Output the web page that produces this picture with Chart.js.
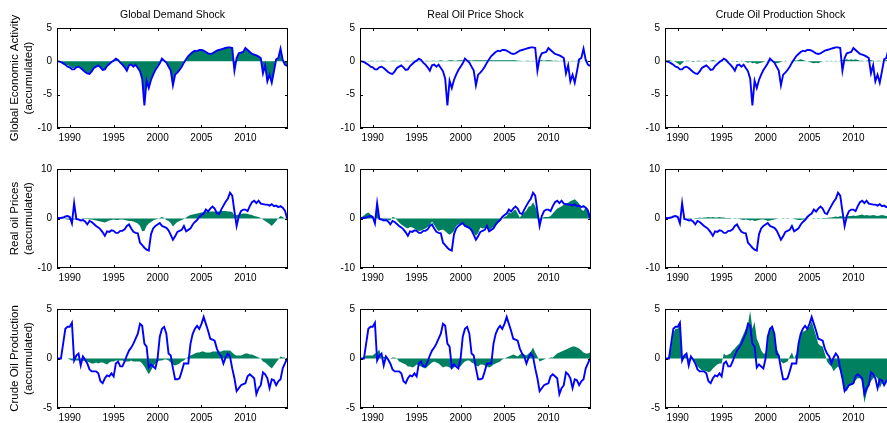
<!DOCTYPE html>
<html>
<head>
<meta charset="utf-8">
<script src="https://cdn.jsdelivr.net/npm/chart.js@4.4.0/dist/chart.umd.min.js"></script>
<style>
  body { margin: 0; background: #fff; width: 887px; height: 423px; overflow: hidden; position: relative; }
  canvas { position: absolute; }
</style>
</head>
<body>
<script>
// quarterly dates, 1988Q3 .. 2014Q4
const quarters = [];
for (let q = 0; q < 106; q++) quarters.push(1988.5 + q * 0.25);

const yearTicks = [1990, 1995, 2000, 2005, 2010];
const shockTitles = ['Global Demand Shock', 'Real Oil Price Shock', 'Crude Oil Production Shock'];
const rowTitles = [
  ['Global Economic Activity', '(accumulated)'],
  ['Real oil Prices', '(accumulated)'],
  ['Crude Oil Production', '(accumulated)']
];
const rowTicks = [[-10, -5, 0, 5], [-10, 0, 10], [-5, 0, 5]];

// ---- global economic activity (row 1) ----
const activityTotal = [
  0.0, 0.0,
  -0.1, -0.3, -0.5, -0.8,   -0.9, -1.2, -1.2, -0.9,   -0.8, -1.0, -1.3, -1.6,   -1.8, -1.9, -1.5, -1.0,
  -0.8, -0.6, -0.9, -1.3,   -1.2, -0.7, -0.4, -0.1,   0.1, 0.4, 0.2, -0.2,      -0.5, -0.9, -1.4, -0.6,
  -0.5, -0.8, -0.5, -1.0,   -1.5, -2.6, -6.6, -2.9,   -4.0, -2.8, -2.0, -1.3,   -0.8, -0.3, 0.4, 0.1,
  -0.2, -0.8, -1.4, -3.6,   -2.0, -1.7, -1.3, -0.8,   -0.2, 0.3, 0.8, 1.1,      1.4, 1.6, 1.5, 1.7,
  1.7, 1.6, 1.4, 1.2,       1.1, 1.2, 1.4, 1.6,       1.7, 1.8, 1.9, 2.0,       2.1, 2.1, 2.0, -1.4,
  0.5, 1.2, 1.3, 1.4,       2.0, 1.7, 1.4, 1.1,       1.0, 0.9, 0.7, 0.5,       -1.8, -0.6, -3.0, -2.0,
  -3.2, -1.5, 0.3, 0.5,     1.9, 0.2, -0.5, -0.7
];
const activityDemand = [
  0.0, 0.0,
  0.0, -0.2, -0.4, -0.6,    -0.7, -1.0, -1.0, -0.8,   -0.7, -0.9, -1.2, -1.5,   -1.7, -1.8, -1.4, -0.9,
  -0.7, -0.5, -0.8, -1.2,   -1.1, -0.6, -0.3, 0.0,    0.1, 0.3, 0.2, -0.2,      -0.4, -0.8, -1.3, -0.6,
  -0.5, -0.7, -0.5, -0.9,   -1.4, -2.4, -6.2, -2.8,   -3.8, -2.6, -1.8, -1.1,   -0.6, -0.2, 0.3, 0.1,
  -0.1, -0.7, -1.3, -3.4,   -1.9, -1.6, -1.2, -0.6,   -0.1, 0.3, 0.8, 1.2,      1.5, 1.7, 1.6, 1.8,
  1.8, 1.6, 1.4, 1.2,       1.2, 1.3, 1.5, 1.7,       1.8, 1.9, 2.0, 2.1,       2.1, 2.1, 2.0, -1.2,
  0.5, 1.3, 1.4, 1.5,       2.0, 1.8, 1.5, 1.2,       1.1, 1.0, 0.8, 0.5,       -1.6, -0.6, -2.8, -1.9,
  -3.0, -1.4, 0.2, 0.4,     1.6, 0.1, -0.5, -0.8
];
const activityOilPrice = [
  0.0, 0.05,
  0.1, 0.05, -0.05, 0.1,    0.1, 0.0, 0.1, 0.05,      0.1, 0.1, 0.05, 0.0,      0.05, 0.1, 0.1, 0.05,
  0.1, 0.05, 0.0, 0.1,      0.1, 0.05, 0.1, 0.1,      0.05, 0.1, 0.05, 0.0,     0.1, 0.1, 0.05, 0.1,
  0.1, 0.05, 0.1, 0.15,     0.1, 0.05, 0.1, 0.15,     0.15, 0.1, 0.1, 0.15,     0.15, 0.15, 0.1, 0.15,
  0.15, 0.1, 0.15, 0.15,    0.15, 0.15, 0.15, 0.15,   0.15, 0.15, 0.15, 0.15,   0.15, 0.15, 0.15, 0.15,
  0.15, 0.15, 0.15, 0.15,   0.15, 0.15, 0.1, 0.1,     0.05, 0.0, 0.1, 0.1,      0.05, 0.1, 0.0, 0.1,
  0.15, 0.15, 0.1, 0.15,    0.15, 0.15, 0.1, 0.1,     0.1, 0.05, 0.1, 0.05,     0.1, 0.0, 0.05, 0.1,
  0.05, 0.1, 0.1, 0.05,     0.0, 0.05, 0.1, 0.0
];
const activityProduction = [
  0.0, 0.1,
  0.2, 0.1, 0.0, -0.1,      -0.3, -0.6, -0.3, 0.0,    0.1, 0.1, 0.0, -0.1,      0.0, 0.1, 0.1, 0.0,
  0.1, 0.1, 0.0, 0.1,       0.2, 0.1, 0.0, 0.1,       0.1, 0.0, 0.1, 0.1,       0.0, 0.1, 0.0, -0.1,
  0.0, 0.1, 0.0, -0.1,      -0.2, -0.1, -0.3, -0.2,   -0.4, -0.3, -0.2, -0.1,   0.0, 0.1, 0.2, 0.0,
  -0.2, -0.3, -0.2, -0.1,   0.0, 0.1, 0.0, 0.0,       0.1, 0.2, 0.1, 0.2,       0.3, 0.2, 0.1, 0.0,
  -0.1, -0.2, -0.3, -0.2,   -0.3, -0.1, 0.0, 0.0,     0.1, 0.0, 0.1, 0.0,       0.1, 0.0, 0.1, 0.2,
  0.2, 0.3, 0.2, 0.3,       0.2, 0.3, 0.2, 0.1,       0.1, 0.0, 0.1, 0.2,       0.2, 0.1, 0.0, 0.1,
  0.1, 0.0, 0.1, 0.2,       0.3, 0.1, 0.0, 0.1
];

// ---- real oil price (row 2) ----
const priceTotal = [
  0.0, 0.1,
  0.1, 0.2, 0.4, 0.5,       0.3, -1.0, 3.1, -0.1,     -0.2, -0.4, -0.3, -0.6,   -1.2, -0.5, -0.7, -1.1,
  -1.5, -1.8, -2.2, -2.8,   -3.5, -2.6, -2.7, -2.4,   -2.5, -2.9, -2.9, -2.5,   -2.5, -2.2, -1.5, -1.2,
  -2.0, -2.7, -2.9, -3.0,   -4.9, -5.4, -5.9, -6.3,   -6.5, -3.2, -2.0, -1.5,   -1.2, -0.9, -1.5, -1.7,
  -1.9, -2.4, -3.3, -4.3,   -3.6, -2.7, -2.5, -2.3,   -1.5, -2.6, -2.3, -2.0,   -1.2, -0.7, -0.3, 0.3,
  0.7, 1.0, 1.8, 1.4,       2.0, 2.4, 2.0, 1.1,       0.9, 1.8, 2.6, 3.4,       4.0, 5.2, 4.6, 1.5,
  -1.5, 0.5, 1.5, 1.8,      1.8, 1.5, 2.5, 3.3,       3.6, 3.1, 3.6, 3.0,       2.9, 2.8, 2.8, 2.6,
  2.9, 2.5, 2.6, 2.3,       2.5, 2.2, 1.6, 0.0
];
const priceDemand = [
  0.0, 0.0,
  0.0, 0.0, -0.1, -0.2,     -0.3, -0.3, -0.2, -0.1,   0.0, 0.0, -0.1, -0.1,     -0.1, -0.2, -0.2, -0.3,
  -0.4, -0.5, -0.6, -0.7,   -0.8, -0.6, -0.4, -0.3,   -0.2, -0.3, -0.3, -0.2,   -0.2, -0.3, -0.4, -0.5,
  -0.5, -0.6, -0.8, -1.0,   -1.5, -2.6, -2.5, -1.5,   -1.0, -0.7, -0.4, -0.2,   -0.1, 0.1, 0.3, 0.1,
  -0.3, -0.5, -0.9, -1.6,   -1.1, -0.7, -0.5, -0.3,   -0.1, 0.2, 0.5, 0.7,      0.8, 0.9, 1.0, 1.1,
  1.2, 1.3, 1.3, 1.3,       1.4, 1.4, 1.4, 1.4,       1.4, 1.5, 1.5, 1.5,       1.4, 1.4, 1.3, 0.6,
  0.7, 0.8, 0.9, 1.0,       1.0, 0.9, 0.8, 0.7,       0.5, 0.4, 0.3, 0.1,       -0.2, -0.5, -0.8, -1.1,
  -1.5, -1.0, -0.5, 0.1,    0.5, 0.3, 0.0, -0.5
];
const priceOilPrice = [
  0.0, 0.3,
  0.6, 1.0, 1.2, 0.8,       0.5, -0.5, 2.6, 0.0,      -0.2, -0.3, -0.2, -0.3,   -0.4, 0.3, 0.2, -0.3,
  -0.8, -1.2, -1.5, -1.8,   -2.0, -1.7, -1.8, -2.0,   -2.3, -2.5, -2.4, -2.2,   -2.0, -1.7, -1.3, -0.6,
  -1.3, -2.0, -2.5, -2.3,   -2.2, -2.6, -3.0, -3.3,   -3.0, -2.5, -1.5, -1.2,   -1.1, -1.0, -1.5, -1.9,
  -2.0, -2.5, -3.0, -3.5,   -3.0, -1.8, -2.0, -1.9,   -1.5, -2.3, -2.0, -1.7,   -1.5, -1.0, -0.5, 0.0,
  0.3, 0.5, 1.3, 1.0,       1.5, 1.8, 1.0, 0.2,       0.8, 1.2, 1.6, 2.4,       2.5, 3.3, 2.5, 1.2,
  -0.8, 0.0, 0.3, 0.3,      0.3, 0.5, 1.0, 1.5,       2.0, 2.2, 2.5, 2.8,       3.0, 3.2, 3.5, 3.7,
  3.9, 3.5, 3.0, 1.8,       1.5, 2.3, 2.0, 0.5
];
const priceProduction = [
  0.0, 0.0,
  0.0, 0.0, 0.0, 0.0,       0.0, 0.0, 0.0, 0.0,       0.0, 0.1, 0.1, 0.0,       0.1, 0.1, 0.2, 0.1,
  0.2, 0.2, 0.3, 0.2,       0.3, 0.2, 0.2, 0.3,       0.2, 0.2, 0.1, 0.1,       0.1, 0.0, 0.1, 0.0,
  -0.1, -0.2, -0.3, -0.2,   -0.3, -0.4, -0.3, -0.5,   -0.4, -0.3, -0.2, -0.2,   -0.3, -0.5, -0.4, -0.3,
  -0.2, -0.1, 0.0, 0.0,     0.1, 0.0, 0.1, 0.0,       0.0, -0.1, -0.2, -0.3,    -0.3, -0.2, -0.2, -0.1,
  0.0, 0.0, 0.1, 0.0,       0.1, 0.0, 0.1, 0.1,       0.1, 0.2, 0.2, 0.3,       0.4, 0.3, 0.5, 0.4,
  0.3, 0.4, 0.5, 0.5,       0.6, 0.5, 0.6, 0.7,       0.8, 0.6, 0.7, 0.6,       0.6, 0.7, 0.6, 0.5,
  0.6, 0.7, 0.6, 0.5,       0.6, 0.6, 0.5, 0.6
];

// ---- crude oil production (row 3) ----
const productionTotal = [
  0.0, 0.0,
  0.0, 1.5, 3.0, 3.2,       3.2, 3.6, -0.2, 0.3,      0.5, -0.7, 0.2, -0.1,     -0.5, -1.1, -1.3, -1.3,
  -1.3, -1.5, -2.3, -2.5,   -2.0, -1.7, -1.8, -1.5,   -1.8, -0.5, -0.3, -0.8,   -0.8, -0.3, 0.3, 0.8,
  1.1, 1.5, 2.0, 2.5,       3.5, 3.3, 1.5, 1.2,       -0.9, -0.6, -0.8, -1.0,   0.0, 2.2, 3.0, 3.2,
  2.5, 0.5, 0.3, -1.0,      -2.1, -2.1, -2.0, -1.3,   -0.5, -0.5, -0.5, 1.5,    2.5, 3.0, 3.3, 3.0,
  3.5, 4.2, 3.5, 2.8,       2.0, 1.9, 1.8, 1.0,       0.5, 0.2, -0.5, 0.1,      0.5, 0.2, -1.0, -2.0,
  -3.3, -3.0, -2.7, -2.6,   -2.5, -1.8, -1.6, -1.8,   -2.0, -3.6, -3.0, -2.7,   -1.4, -1.6, -2.0, -3.0,
  -2.1, -2.2, -2.7, -2.3,   -2.1, -1.0, -0.5, 0.0
];
const productionDemand = [
  0.0, 0.0,
  0.0, 0.0, 0.0, 0.0,       -0.1, -0.2, -0.2, -0.2,   -0.2, -0.2, -0.2, -0.3,   -0.3, -0.4, -0.5, -0.5,
  -0.4, -0.5, -0.4, -0.4,   -0.5, -0.6, -0.4, -0.3,   -0.3, -0.2, -0.2, -0.2,   -0.2, -0.3, -0.3, -0.3,
  -0.2, -0.3, -0.3, -0.3,   -0.3, -0.5, -0.8, -1.2,   -1.6, -1.2, -0.8, -0.5,   -0.3, -0.2, -0.2, -0.1,
  -0.1, -0.2, -0.4, -0.6,   -0.7, -0.6, -0.5, -0.3,   -0.2, 0.0, 0.2, 0.3,      0.4, 0.5, 0.6, 0.6,
  0.7, 0.7, 0.6, 0.6,       0.6, 0.7, 0.7, 0.7,       0.7, 0.7, 0.8, 0.8,       0.8, 0.8, 0.6, 0.4,
  0.3, 0.3, 0.3, 0.4,       0.5, 0.5, 0.4, 0.4,       0.3, 0.2, 0.1, 0.0,       -0.3, -0.4, -0.6, -0.8,
  -1.0, -0.7, -0.4, -0.1,   0.2, 0.1, 0.1, -0.1
];
const productionOilPrice = [
  0.0, 0.0,
  0.1, 0.3, 0.3, 0.3,       0.3, 0.5, 0.6, 0.9,       0.0, 0.2, 0.1, 0.0,       0.0, 0.1, 0.1, 0.0,
  -0.3, -0.4, -0.5, -0.6,   -0.8, -0.8, -0.9, -0.8,   -0.6, -0.7, -0.8, -0.9,   -1.0, -0.8, -0.6, -0.4,
  -0.3, -0.4, -0.5, -0.7,   -0.9, -0.8, -0.8, -0.9,   -1.1, -0.9, -0.7, -0.8,   -0.8, -0.5, -0.3, -0.2,
  -0.2, -0.4, -0.5, -0.7,   -0.8, -0.6, -0.6, -0.7,   -0.8, -0.9, -0.8, -0.6,   -0.5, -0.4, -0.3, -0.1,
  0.0, 0.1, 0.2, 0.3,       0.4, 0.3, 0.2, 0.4,       0.5, 0.4, 0.3, 0.5,       0.7, 1.1, 0.6, 0.2,
  -0.3, -0.2, -0.1, 0.0,    0.0, 0.1, 0.1, 0.3,       0.5, 0.6, 0.7, 0.8,       0.9, 1.0, 1.1, 1.2,
  1.2, 1.1, 1.0, 0.8,       0.6, 0.5, 0.5, 0.6
];
const productionProduction = [
  0.0, 0.0,
  0.2, 1.0, 2.6, 3.0,       3.0, 3.5, -0.3, 0.3,      0.3, -0.3, 0.0, -0.2,     -0.3, -0.8, -1.0, -1.2,
  -1.2, -1.3, -1.4, -1.3,   -1.0, -0.8, -0.6, -0.5,   -0.5, 0.5, 0.3, 0.4,      0.5, 0.8, 1.0, 1.3,
  1.5, 2.0, 2.5, 3.0,       3.5, 4.8, 3.0, 3.7,       2.0, 1.5, 0.8, 0.5,       0.5, 2.0, 3.0, 3.4,
  2.5, 1.0, 0.5, -0.3,      -0.5, -0.4, -0.3, 0.2,    0.6, 0.0, 0.5, 1.5,       2.5, 2.7, 2.8, 3.0,
  3.2, 3.8, 3.0, 2.3,       1.5, 1.3, 1.2, 0.5,       -0.3, -0.6, -0.8, -1.3,   -1.0, -0.8, -1.2, -2.0,
  -3.0, -3.3, -2.8, -2.7,   -2.6, -2.2, -2.0, -2.0,   -2.3, -4.5, -3.5, -2.8,   -2.3, -2.0, -1.8, -2.0,
  -3.0, -2.5, -2.6, -2.4,   -2.4, -2.3, -2.2, -2.0
];

const rowTotals = [activityTotal, priceTotal, productionTotal];
const contributions = [
  [activityDemand, activityOilPrice, activityProduction],
  [priceDemand, priceOilPrice, priceProduction],
  [productionDemand, productionOilPrice, productionProduction]
];

Chart.defaults.font.family = 'Arial, "Liberation Sans", sans-serif';
Chart.defaults.font.size = 10;
Chart.defaults.color = '#000';

// matlab style box with inward ticks on all sides
const boxTicks = {
  id: 'boxTicks',
  afterDraw(chart) {
    const { ctx, chartArea: a, scales: { x, y } } = chart;
    ctx.save();
    ctx.strokeStyle = '#000';
    ctx.lineWidth = 1;
    ctx.beginPath();
    x.ticks.forEach(t => {
      const px = Math.round(x.getPixelForValue(t.value)) + 0.5;
      ctx.moveTo(px, a.bottom); ctx.lineTo(px, a.bottom - 3);
      ctx.moveTo(px, a.top); ctx.lineTo(px, a.top + 3);
    });
    y.ticks.forEach(t => {
      const py = Math.round(y.getPixelForValue(t.value)) + 0.5;
      ctx.moveTo(a.left, py); ctx.lineTo(a.left + 3, py);
      ctx.moveTo(a.right, py); ctx.lineTo(a.right - 3, py);
    });
    ctx.stroke();
    ctx.strokeRect(a.left + 0.5, a.top + 0.5, a.width - 1, a.height - 1);
    ctx.restore();
  }
};

const boxLeft = [57, 360, 665];
const boxTop = [28, 168, 308];
const boxW = 231, boxH = 100, xAxisH = 17;

for (let r = 0; r < 3; r++) {
  for (let c = 0; c < 3; c++) {
    const yW = c === 0 ? 57 : 30;
    const topPad = r === 0 ? 0 : 10;
    const canvas = document.createElement('canvas');
    const left = boxLeft[c] - yW;
    const top = r === 0 ? 0 : boxTop[r] - topPad;
    canvas.width = yW + boxW;
    canvas.height = (boxTop[r] - top) + boxH + xAxisH;
    canvas.style.left = left + 'px';
    canvas.style.top = top + 'px';
    document.body.appendChild(canvas);

    new Chart(canvas, {
      type: 'line',
      data: {
        labels: quarters,
        datasets: [
          {
            data: rowTotals[r],
            borderColor: '#0000ff',
            borderWidth: 1.9,
            pointRadius: 0,
            tension: 0,
            fill: false
          },
          {
            data: contributions[r][c],
            borderWidth: 0,
            borderColor: 'rgba(0,0,0,0)',
            backgroundColor: '#00805f',
            pointRadius: 0,
            tension: 0,
            fill: 'origin'
          }
        ]
      },
      options: {
        responsive: false,
        animation: false,
        devicePixelRatio: 1,
        layout: { padding: { top: topPad, left: 0, right: 0, bottom: 0 } },
        plugins: {
          legend: { display: false },
          tooltip: { enabled: false },
          title: {
            display: r === 0,
            fullSize: false,
            text: shockTitles[c],
            font: { size: 10.5, weight: 'normal' },
            color: '#000',
            padding: { top: 9, bottom: 6.4 }
          }
        },
        scales: {
          x: {
            type: 'linear',
            min: 1988.55,
            max: 2014.85,
            afterBuildTicks: s => { s.ticks = yearTicks.map(v => ({ value: v })); },
            afterFit: s => { s.height = xAxisH; },
            grid: { display: false, drawTicks: false },
            border: { display: false },
            ticks: { padding: 4, maxRotation: 0, callback: v => String(v) }
          },
          y: {
            min: rowTicks[r][0],
            max: rowTicks[r][rowTicks[r].length - 1],
            afterBuildTicks: s => { s.ticks = rowTicks[r].map(v => ({ value: v })); },
            afterFit: s => { s.width = yW; },
            grid: { display: false, drawTicks: false },
            border: { display: false },
            ticks: { padding: 5, callback: v => String(v) },
            title: {
              display: c === 0,
              text: rowTitles[r],
              font: { size: 11.5 },
              color: '#000',
              padding: { top: 8, bottom: 0 }
            }
          }
        }
      },
      plugins: [boxTicks]
    });
  }
}
</script>
</body>
</html>
